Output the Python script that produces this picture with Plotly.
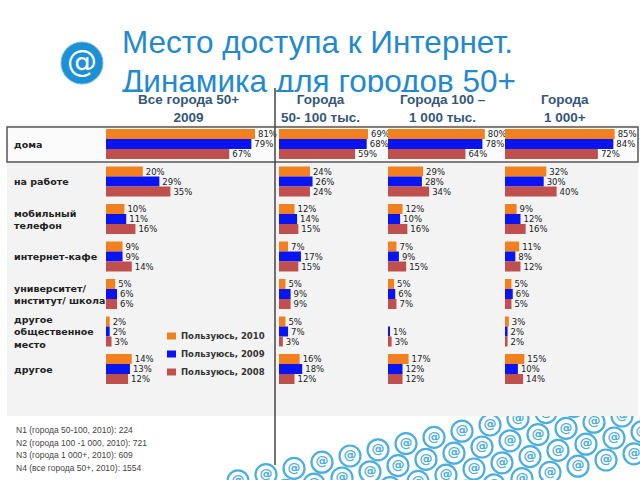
import numpy as np
import plotly.graph_objects as go

# ---------------- data ----------------
categories = ["дома", "на работе", "мобильный телефон", "интернет-кафе",
              "университет/ институт/ школа", "другое общественное место", "другое"]
row_labels = ["дома", "на работе", "мобильный<br>телефон", "интернет-кафе",
              "университет/<br>институт/ школа", "другое<br>общественное<br>место", "другое"]
series_names = ["Пользуюсь, 2010", "Пользуюсь, 2009", "Пользуюсь, 2008"]
panel_titles = ["Все города 50+<br>2009", "Города<br>50- 100 тыс.",
                "Города 100 –<br>1 000 тыс.", "Города<br>1 000+"]

all_2010 = [81, 20, 10, 9, 5, 2, 14]
all_2009 = [79, 29, 11, 9, 6, 2, 13]
all_2008 = [67, 35, 16, 14, 6, 3, 12]

c50_2010 = [69, 24, 12, 7, 5, 5, 16]
c50_2009 = [68, 26, 14, 17, 9, 7, 18]
c50_2008 = [59, 24, 15, 15, 9, 3, 12]

c100_2010 = [80, 29, 12, 7, 5, 0, 17]
c100_2009 = [78, 28, 10, 9, 6, 1, 12]
c100_2008 = [64, 34, 16, 15, 7, 3, 12]

c1000_2010 = [85, 32, 9, 11, 5, 3, 15]
c1000_2009 = [84, 30, 12, 8, 6, 2, 10]
c1000_2008 = [72, 40, 16, 12, 5, 2, 14]

footnotes = ["N1 (города 50-100, 2010): 224",
             "N2 (города 100 -1 000, 2010): 721",
             "N3 (города 1 000+, 2010): 609",
             "N4 (все города 50+, 2010): 1554"]

title_lines = ["Место доступа к Интернет.", "Динамика для городов 50+"]

# ---------------- styling ----------------
W, H = 640, 480
def px(x):
    return x / W
def py(y):
    return 1 - y / H

colors = ["#f3801f", "#0a14f0", "#c0504d"]
panels = [(all_2010, all_2009, all_2008), (c50_2010, c50_2009, c50_2008),
          (c100_2010, c100_2009, c100_2008), (c1000_2010, c1000_2009, c1000_2008)]
# pixel domains and px-per-percent for the 4 panels
panel_px = [(106, 270, 1.84), (279, 385, 1.29), (388, 500, 1.21), (505, 636, 1.29)]
header_x = [188, 320, 443, 565]

row_top, row_h = 125.25, 37.5
y_dom = [py(row_top + 7 * row_h), py(row_top)]

fig = go.Figure()
layout = dict(width=W, height=H, margin=dict(l=0, r=0, t=0, b=0),
              paper_bgcolor="white", plot_bgcolor="rgba(0,0,0,0)",
              barmode="group", bargap=0.2, bargroupgap=0.0,
              showlegend=False,
              font=dict(family="Liberation Sans"))

for p, (vals, (x0, x1, k)) in enumerate(zip(panels, panel_px)):
    ax = "" if p == 0 else str(p + 1)
    for s, v in enumerate(vals):
        fig.add_trace(go.Bar(
            y=categories, x=v, orientation="h", name=series_names[s],
            marker=dict(color=colors[s], line=dict(width=0)),
            text=[f"{t}%" if t else "" for t in v], textposition="outside",
            textfont=dict(family="DejaVu Sans", size=8.5, color="#222"),
            constraintext="none", cliponaxis=False,
            xaxis="x" + ax, yaxis="y" + ax, hoverinfo="skip"))
    layout["xaxis" + ax] = dict(domain=[px(x0), px(x1)], range=[0, (x1 - x0) / k],
                                visible=False, fixedrange=True, anchor="y" + ax)
    layout["yaxis" + ax] = dict(domain=y_dom, type="category", categoryorder="array",
                                categoryarray=categories, range=[6.5, -0.5],
                                visible=False, fixedrange=True, anchor="x" + ax)

# title in a clipped subplot (top 92 px)
fig.add_trace(go.Scatter(x=[122, 122], y=[45, 84], mode="text", text=title_lines,
                         textposition="middle right", cliponaxis=True,
                         textfont=dict(family="Liberation Sans", size=31.5, color="#2389cf"),
                         xaxis="x5", yaxis="y5", hoverinfo="skip"))
layout["xaxis5"] = dict(domain=[0, 1], range=[0, W], visible=False, anchor="y5", fixedrange=True)
layout["yaxis5"] = dict(domain=[py(92), 1], range=[92, 0], visible=False, anchor="x5", fixedrange=True)

# decorative @ pattern in bottom-right, clipped to area below the panel
pts = []
base = np.array([490.0, 425.0]); a = np.array([28.0, -6.2]); b = np.array([-8.0, 22.0])
for j in range(0, 4):
    for kk in range(-12, 10):
        pnt = base + kk * a + j * b
        if 215 < pnt[0] < 660 and 400 < pnt[1] < 500:
            pts.append(pnt)
pts = np.array(pts)
fig.add_trace(go.Scatter(x=pts[:, 0], y=pts[:, 1], mode="markers+text", text=["@"] * len(pts),
                         textposition="middle center", cliponaxis=True,
                         marker=dict(symbol="circle-open", size=21, line=dict(width=2.2, color="#4aaee0"),
                                     color="#4aaee0"),
                         textfont=dict(family="DejaVu Sans", size=13, color="#4aaee0", weight="bold"),
                         xaxis="x6", yaxis="y6", hoverinfo="skip"))
layout["xaxis6"] = dict(domain=[0, 1], range=[0, W], visible=False, anchor="y6", fixedrange=True)
layout["yaxis6"] = dict(domain=[0, py(416)], range=[480, 416], visible=False, anchor="x6", fixedrange=True)

shapes = [
    # grey panel
    dict(type="rect", xref="paper", yref="paper", x0=px(7), x1=px(638), y0=py(416), y1=py(125),
         fillcolor="#f3f3f3", line=dict(width=0), layer="below"),
    # "дома" box
    dict(type="rect", xref="paper", yref="paper", x0=px(7), x1=px(638), y0=py(162), y1=py(127),
         fillcolor="#fbfbfb", line=dict(width=1.5, color="#555"), layer="below"),
    # vertical divider
    dict(type="line", xref="paper", yref="paper", x0=px(275), x1=px(275), y0=py(465), y1=py(88),
         line=dict(width=1.5, color="#444"), layer="above"),
    # logo disc
    dict(type="circle", xref="paper", yref="paper", x0=px(61), x1=px(103), y0=py(84), y1=py(42),
         fillcolor="#1d8fd5", line=dict(width=1, color="#6fbbe8"), layer="above"),
]

ann = []
ann.append(dict(text="@", x=px(82), y=py(62), xref="paper", yref="paper", showarrow=False,
                xanchor="center", yanchor="middle",
                font=dict(family="DejaVu Sans", size=30, color="white")))
for i, lab in enumerate(row_labels):
    ann.append(dict(text=lab, x=px(12), y=i, xref="paper", yref="y", xanchor="left",
                    yanchor="middle", align="left", showarrow=False,
                    font=dict(family="DejaVu Sans", size=9.5, color="#222", weight="bold")))
for t, hx in zip(panel_titles, header_x):
    ann.append(dict(text=t, x=px(hx), y=py(109), xref="paper", yref="paper", xanchor="center",
                    yanchor="middle", align="center", showarrow=False,
                    font=dict(family="Liberation Sans", size=13.5, color="#34577a", weight="bold")))
for i, t in enumerate(footnotes):
    ann.append(dict(text=t, x=px(14), y=py(430 + 12.5 * i), xref="paper", yref="paper",
                    xanchor="left", yanchor="middle", showarrow=False,
                    font=dict(family="Liberation Sans", size=8.5, color="#444")))

# manual legend (small swatches + labels)
for s, name in enumerate(series_names):
    yc = 336 + 18 * s
    shapes.append(dict(type="rect", xref="paper", yref="paper", x0=px(167), x1=px(176),
                       y0=py(yc + 3.5), y1=py(yc - 3.5), fillcolor=colors[s],
                       line=dict(width=0), layer="above"))
    ann.append(dict(text=name, x=px(179), y=py(yc), xref="paper", yref="paper",
                    xanchor="left", yanchor="middle", showarrow=False,
                    font=dict(family="DejaVu Sans", size=8.5, color="#333", weight="bold")))

layout["shapes"] = shapes
layout["annotations"] = ann

fig.update_layout(**layout)
fig.write_html("out.html", config={"displayModeBar": False},
               post_script="document.body.style.margin='0px';")
